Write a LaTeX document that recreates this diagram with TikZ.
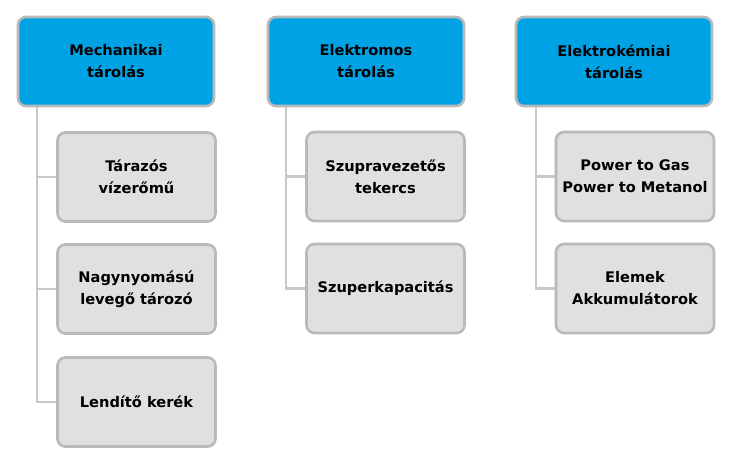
\documentclass[tikz,border=0pt]{standalone}
\usepackage{fontspec}
\setmainfont{DejaVu Sans}
\definecolor{topblue}{RGB}{0,162,230}
\definecolor{boxgray}{RGB}{224,224,224}
\definecolor{edgegray}{RGB}{185,185,185}
\definecolor{linegray}{RGB}{200,200,200}
\begin{document}
\begin{tikzpicture}[x=1pt,y=-1pt,
  base/.style={draw=edgegray, line width=2.6pt, rounded corners=8pt, align=center,
    font=\fontsize{14.6}{22}\selectfont\bfseries, inner sep=0pt, text=black},
  topbox/.style={base, fill=topblue, minimum width=196pt, minimum height=89pt},
  childbox/.style={base, fill=boxgray, minimum width=158pt, minimum height=89pt},
  conn/.style={draw=linegray, line width=2.8pt}]
\useasboundingbox (0,0) rectangle (736,462);
% top boxes
\node[topbox] (m) at (116,61.5) {Mechanikai\\tárolás};
\node[topbox] (e) at (366,61.5) {Elektromos\\tárolás};
\node[topbox] (k) at (614,61.5) {Elektrokémiai\\tárolás};
% coordinates for trunk lines
\coordinate (mt) at (37,107);
\coordinate (et) at (286,107);
\coordinate (kt) at (536,107);
% children
\node[childbox] (m1) at (136.5,177) {Tárazós\\vízerőmű};
\node[childbox] (m2) at (136.5,289) {Nagynyomású\\levegő tározó};
\node[childbox] (m3) at (136.5,402) {Lendítő kerék};
\node[childbox] (e1) at (385.5,176.5) {Szupravezetős\\tekercs};
\node[childbox] (e2) at (385.5,288.5) {Szuperkapacitás};
\node[childbox] (k1) at (635,176.5) {Power to Gas\\Power to Metanol};
\node[childbox] (k2) at (635,288.5) {Elemek\\Akkumulátorok};
% connectors
\draw[conn] (mt) |- (m1.west);
\draw[conn] (mt) |- (m2.west);
\draw[conn] (mt) |- (m3.west);
\draw[conn] (et) |- (e1.west);
\draw[conn] (et) |- (e2.west);
\draw[conn] (kt) |- (k1.west);
\draw[conn] (kt) |- (k2.west);
\end{tikzpicture}
\end{document}
